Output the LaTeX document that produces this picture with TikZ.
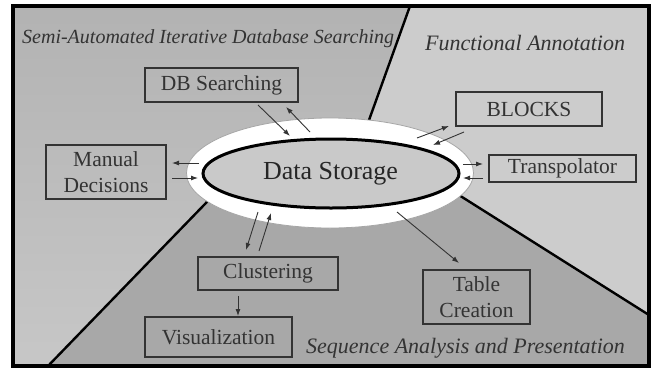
\documentclass[tikz,border=0pt]{standalone}
\usepackage{fontspec}
\setmainfont{Liberation Serif}
\usetikzlibrary{arrows.meta,shapes.geometric}
\definecolor{regA}{gray}{0.74}
\definecolor{regAtop}{gray}{0.70}
\definecolor{regAbot}{gray}{0.78}
\definecolor{regB}{gray}{0.80}
\definecolor{regC}{gray}{0.66}
\definecolor{ink}{gray}{0.2}
\definecolor{innerfill}{gray}{0.79}
\tikzset{
  box/.style={draw=ink, line width=1.3pt, text=ink, inner sep=0pt, align=center,
    font=\fontsize{21.5}{26.5}\selectfont},
  heading/.style={text=ink, inner sep=0pt, anchor=base west, font=\itshape\fontsize{22}{26}\selectfont},
  conn/.style={draw=ink, line width=0.9pt, -{Latex[length=7pt,width=5pt]}},
  divider/.style={black, line width=2.4pt},
}
\begin{document}
\begin{tikzpicture}[x=1pt,y=-1pt]
\useasboundingbox (0,0) rectangle (653,370);
% regions
\shade[top color=regAtop, bottom color=regAbot] (13,6) -- (410,6) -- (350,173) -- (235,173) -- (48,366) -- (13,366) -- cycle;
\fill[regB] (410,6) -- (649,6) -- (649,315) -- (424,173) -- (350,173) -- cycle;
\fill[regC] (48,366) -- (235,173) -- (424,173) -- (649,315) -- (649,366) -- cycle;
\draw[divider] (410,6) -- (350,173);
\draw[divider] (48,366) -- (235,173);
\draw[divider] (649,315) -- (424,173);
% frame
\draw[black, line width=3.5pt] (13,6) rectangle (649,366);
% storage ellipses
\node (ring) [ellipse, draw=gray!70, line width=0.8pt, fill=white, minimum width=287pt, minimum height=110pt, inner sep=0pt] at (330,173) {};
\path[draw=black, line width=3pt, fill=innerfill] (331,173.5) ellipse [x radius=128, y radius=34.5];
\node (store) [text=black!85, inner sep=0pt, anchor=base, font=\fontsize{26}{30}\selectfont] at (330.5,179) {Data Storage};
% headings
\node (h1) [heading, font=\itshape\fontsize{20}{24}\selectfont] at (22,43) {Semi-Automated Iterative Database Searching};
\node (h2) [heading] at (425,50) {Functional Annotation};
\node (h3) [heading] at (306,353) {Sequence Analysis and Presentation};
% boxes
\node (db) [box, minimum width=153pt, minimum height=34pt] at (221.5,85) {DB Searching};
\node (man) [box, minimum width=120pt, minimum height=54pt] at (106,172) {Manual\\Decisions};
\node (blk) [box, minimum width=146pt, minimum height=34pt] at (529,109) {BLOCKS};
\node (tra) [box, minimum width=147pt, minimum height=27pt] at (562.5,168.5) {Transpolator};
\node (clu) [box, minimum width=140pt, minimum height=33pt] at (268,273.5) {Clustering};
\node (vis) [box, minimum width=147pt, minimum height=40pt] at (218.5,337) {Visualization};
\node (tab) [box, minimum width=107pt, minimum height=54pt] at (476.5,297) {Table\\Creation};
% connector end points
\coordinate (dbA) at (258,105); \coordinate (stA) at (290,136);
\coordinate (stB) at (310,132); \coordinate (dbB) at (286,107);
\coordinate (stC) at (199,163); \coordinate (manC) at (172,163);
\coordinate (manD) at (172,178); \coordinate (stD) at (198,178);
\coordinate (stE) at (417,138); \coordinate (blkE) at (449,126);
\coordinate (blkF) at (464,132); \coordinate (stF) at (433,145);
\coordinate (stG) at (463,164); \coordinate (traG) at (483,164);
\coordinate (traH) at (483,178); \coordinate (stH) at (463,178);
\coordinate (stI) at (258,212); \coordinate (cluI) at (246,250);
\coordinate (cluJ) at (259,251); \coordinate (stJ) at (271,213);
\coordinate (cluK) at (238,296); \coordinate (visK) at (238,316);
\coordinate (stL) at (397,212); \coordinate (tabL) at (459,263);
% connectors
\draw[conn] (dbA) -- (stA);
\draw[conn] (stB) -- (dbB);
\draw[conn] (stC) -- (manC);
\draw[conn] (manD) -- (stD);
\draw[conn] (stE) -- (blkE);
\draw[conn] (blkF) -- (stF);
\draw[conn] (stG) -- (traG);
\draw[conn] (traH) -- (stH);
\draw[conn] (stI) -- (cluI);
\draw[conn] (cluJ) -- (stJ);
\draw[conn] (cluK) -- (visK);
\draw[conn] (stL) -- (tabL);
\end{tikzpicture}
\end{document}
